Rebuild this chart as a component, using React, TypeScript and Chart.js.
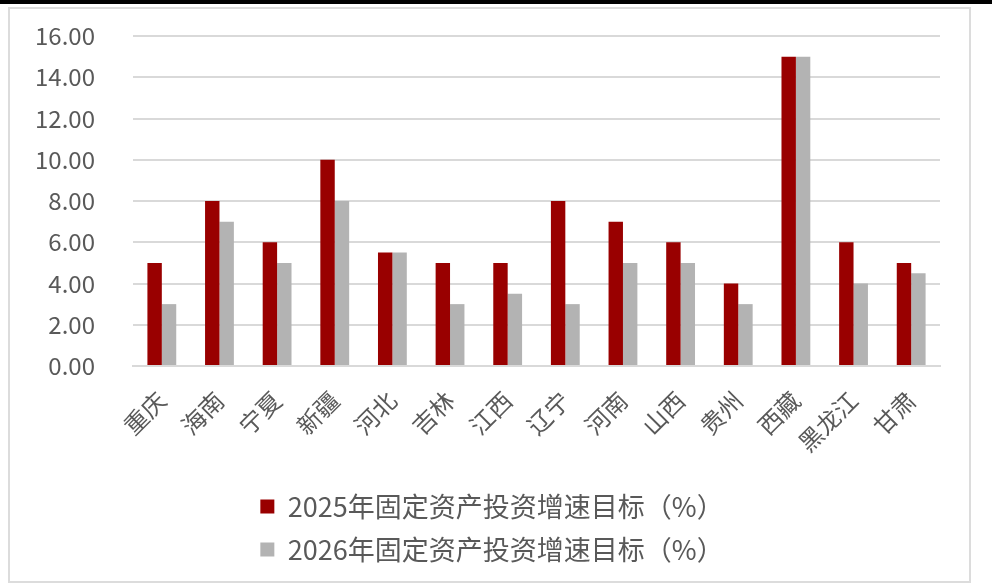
import React, { useEffect, useRef } from "react";
import { Chart, registerables } from "chart.js";

Chart.register(...registerables);

const categories = ["重庆", "海南", "宁夏", "新疆", "河北", "吉林", "江西", "辽宁", "河南", "山西", "贵州", "西藏", "黑龙江", "甘肃"];
const target2025 = [5, 8, 6, 10, 5.5, 5, 5, 8, 7, 6, 4, 15, 6, 5];
const target2026 = [3, 7, 5, 8, 5.5, 3, 3.5, 3, 5, 5, 3, 15, 4, 4.5];
const seriesNames = ["2025年固定资产投资增速目标（%）", "2026年固定资产投资增速目标（%）"];
const yMin = 0;
const yMax = 16;
const yStep = 2;

const FONT = "'Noto Sans CJK SC', 'Noto Sans', sans-serif";
const TEXT = "#595959";
const GRID = "#d9d9d9";
const LEGEND_SHIFT = 10;

const legendShift = {
  id: "legendShift",
  afterLayout(chart: any) {
    const lg = chart.legend;
    if (lg) {
      lg.left += LEGEND_SHIFT;
      lg.right += LEGEND_SHIFT;
    }
  },
};

export default function App() {
  const ref = useRef<HTMLCanvasElement | null>(null);

  useEffect(() => {
    if (!ref.current) return;
    const chart = new Chart(ref.current, {
      type: "bar",
      data: {
        labels: categories,
        datasets: [
          {
            label: seriesNames[0],
            data: target2025,
            backgroundColor: "#990000",
            borderWidth: 0,
            categoryPercentage: 0.5,
            barPercentage: 1.0,
          },
          {
            label: seriesNames[1],
            data: target2026,
            backgroundColor: "#b3b3b3",
            borderWidth: 0,
            categoryPercentage: 0.5,
            barPercentage: 1.0,
          },
        ],
      },
      plugins: [legendShift],
      options: {
        responsive: false,
        animation: false,
        devicePixelRatio: 1,
        layout: { padding: { left: 14, right: 29, top: 27, bottom: 8 } },
        plugins: {
          tooltip: { enabled: false },
          legend: {
            position: "bottom",
            labels: {
              color: TEXT,
              font: { family: FONT, size: 27 },
              boxWidth: 14,
              boxHeight: 14,
              padding: 16,
            },
          },
        },
        scales: {
          x: {
            grid: { display: false, drawTicks: false },
            border: { display: true, color: GRID, width: 2 },
            ticks: {
              color: TEXT,
              font: { family: FONT, size: 24 },
              minRotation: 45,
              maxRotation: 45,
              autoSkip: false,
              padding: 20,
            },
            afterFit: (scale: any) => {
              scale.height = 111;
            },
          },
          y: {
            min: yMin,
            max: yMax,
            grid: { color: GRID, lineWidth: 2, drawTicks: true, tickLength: 38, tickColor: "rgba(0,0,0,0)" },
            border: { display: false },
            ticks: {
              stepSize: yStep,
              color: TEXT,
              font: { family: FONT, size: 24 },
              padding: 0,
              callback: (v: any) => Number(v).toFixed(2),
            },
            afterFit: (scale: any) => {
              scale.width = 109;
            },
          },
        },
      },
    });
    return () => chart.destroy();
  }, []);

  return (
    <div style={{ position: "absolute", left: 0, top: 0, width: 992, height: 586, background: "#fff", overflow: "hidden" }}>
      <div style={{ position: "absolute", left: 0, top: 0, width: 992, height: 4, background: "#000" }} />
      <div
        style={{
          position: "absolute",
          left: 8,
          top: 7,
          width: 963,
          height: 576,
          border: "2px solid #dcdcdc",
          boxSizing: "border-box",
        }}
      />
      <canvas ref={ref} width={959} height={572} style={{ position: "absolute", left: 10, top: 9, width: 959, height: 572 }} />
    </div>
  );
}
